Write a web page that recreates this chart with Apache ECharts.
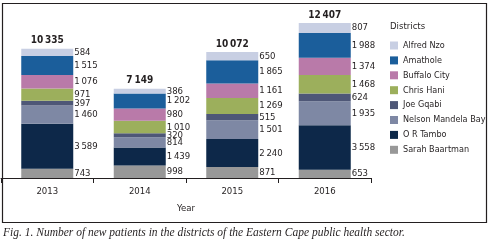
<!DOCTYPE html>
<html><head><meta charset="utf-8">
<script src="https://cdn.jsdelivr.net/npm/echarts@6/dist/echarts.min.js"></script>
<style>html,body{margin:0;padding:0;background:#fff;}#c{width:490px;height:244px;}</style>
</head><body><div id="c"></div>
<script>
const years = ['2013', '2014', '2015', '2016'];
const districts = ['Alfred Nzo', 'Amathole', 'Buffalo City', 'Chris Hani', 'Joe Gqabi', 'Nelson Mandela Bay', 'O R Tambo', 'Sarah Baartman'];
const alfredNzo = [584, 386, 650, 807];
const amathole = [1515, 1202, 1865, 1988];
const buffaloCity = [1076, 980, 1161, 1374];
const chrisHani = [971, 1010, 1269, 1468];
const joeGqabi = [397, 320, 515, 624];
const nelsonMandelaBay = [1460, 814, 1501, 1935];
const orTambo = [3589, 1439, 2240, 3558];
const sarahBaartman = [743, 998, 871, 653];
const totals = [10335, 7149, 10072, 12407];
const colors = {
  'Alfred Nzo': '#c8cfe3', 'Amathole': '#1b5e9b', 'Buffalo City': '#b97aa9', 'Chris Hani': '#9caf5c',
  'Joe Gqabi': '#4e5777', 'Nelson Mandela Bay': '#7e88a4', 'O R Tambo': '#0d2849', 'Sarah Baartman': '#989898'
};
const FONT = '"DejaVu Sans Condensed", "Liberation Sans Narrow", "Open Sans", sans-serif';
const fmt = v => String(v).replace(/\B(?=(\d{3})+(?!\d))/g, '\u2009');

const stackOrder = [
  ['Sarah Baartman', sarahBaartman], ['O R Tambo', orTambo], ['Nelson Mandela Bay', nelsonMandelaBay],
  ['Joe Gqabi', joeGqabi], ['Chris Hani', chrisHani], ['Buffalo City', buffaloCity],
  ['Amathole', amathole], ['Alfred Nzo', alfredNzo]
];
const series = stackOrder.map(([name, data]) => ({
  name, type: 'bar', stack: 'all', data, barWidth: 52,
  itemStyle: { color: colors[name] },
  label: { show: true, position: 'right', distance: 1, color: '#231f20', fontFamily: FONT, fontSize: 9.5,
           formatter: p => fmt(p.value) },
  emphasis: { disabled: true }
}));
series.push({
  name: 'Total', type: 'bar', stack: 'all', data: totals.map(() => 0), barWidth: 52,
  itemStyle: { color: 'transparent' },
  label: { show: true, position: 'top', distance: 3, color: '#231f20', fontFamily: FONT, fontSize: 10, fontWeight: 'bold',
           formatter: p => fmt(totals[p.dataIndex]) }
});

const chart = echarts.init(document.getElementById('c'), null, { renderer: 'canvas' });
chart.setOption({
  animation: false,
  textStyle: { fontFamily: FONT },
  grid: { left: 1, width: 370, top: 3, bottom: 66, containLabel: false, outerBoundsMode: 'none' },
  title: { text: 'Districts', left: 385, top: 17, textStyle: { fontFamily: FONT, fontSize: 9.5, fontWeight: 'normal', color: '#231f20' } },
  legend: {
    orient: 'vertical', left: 385, top: 35, itemWidth: 8, itemHeight: 8, itemGap: 3.9,
    icon: 'rect', data: districts, textStyle: { fontFamily: FONT, fontSize: 9, color: '#231f20', lineHeight: 11 }
  },
  xAxis: {
    type: 'category', data: years,
    name: 'Year', nameLocation: 'middle', nameGap: 26,
    nameTextStyle: { fontFamily: FONT, fontSize: 9.5, color: '#231f20' },
    axisLine: { show: true, lineStyle: { color: '#231f20', width: 1 } },
    axisTick: { show: true, length: 5, interval: 0, lineStyle: { color: '#231f20', width: 1 } },
    axisLabel: { margin: 9, fontFamily: FONT, fontSize: 9.5, color: '#231f20' }
  },
  yAxis: { type: 'value', min: 0, max: 14000, show: false },
  series,
  graphic: [
    { type: 'rect', shape: { x: 2.5, y: 3.5, width: 484, height: 219 }, style: { fill: 'none', stroke: '#231f20', lineWidth: 1.2 }, silent: true },
    { type: 'text', left: 3, top: 227, style: { text: 'Fig. 1. Number of new patients in the districts of the Eastern Cape public health sector.',
      font: 'italic 11.5px "Liberation Serif", "DejaVu Serif", serif', fill: '#231f20' } }
  ]
});
</script></body></html>
